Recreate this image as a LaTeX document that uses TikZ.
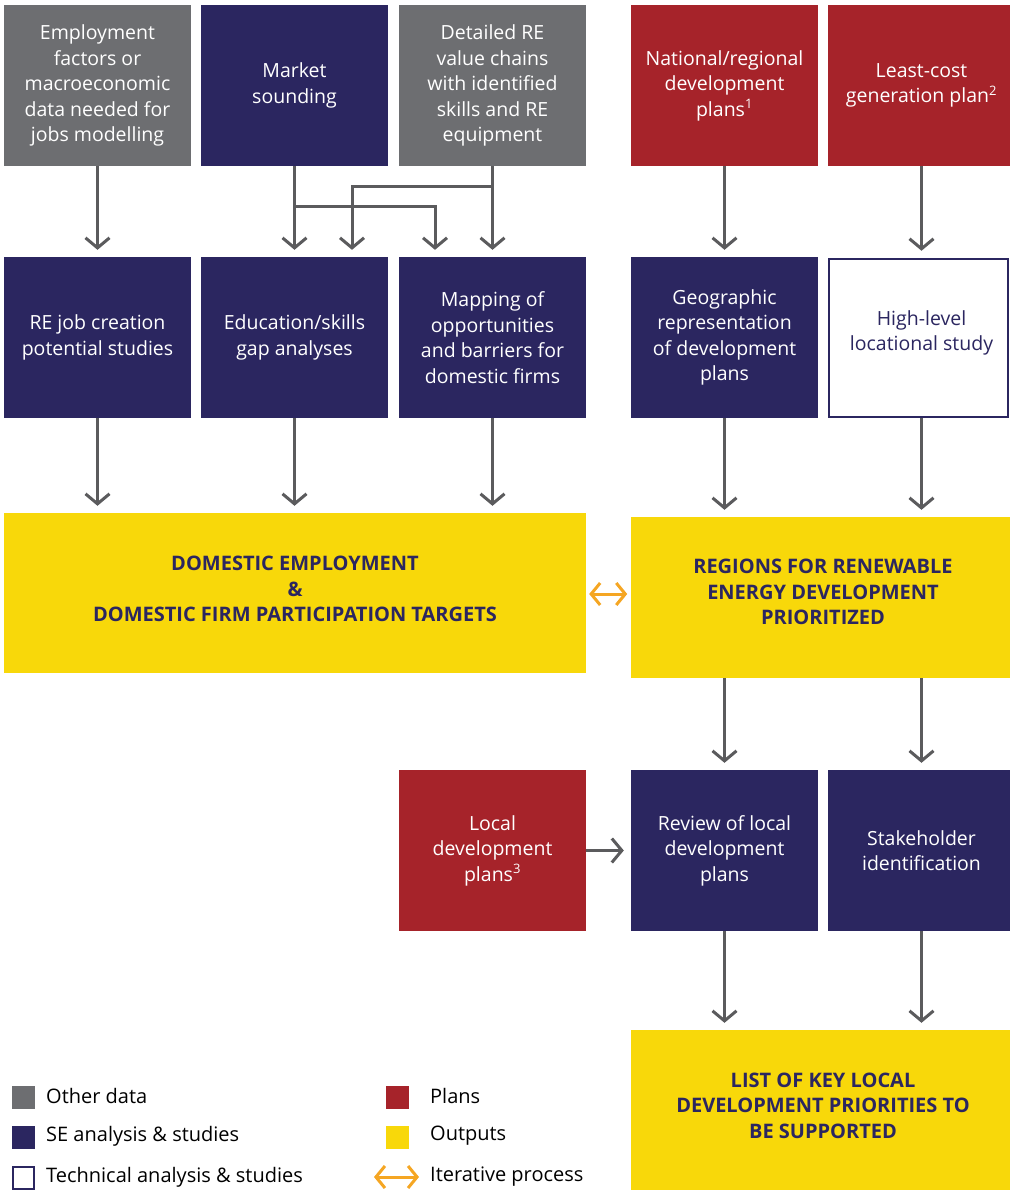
\documentclass[tikz,border=0pt]{standalone}
\usepackage{fontspec}
\setmainfont{Open Sans}
\usetikzlibrary{arrows.meta,calc}
\definecolor{datagray}{HTML}{6D6E71}
\definecolor{senavy}{HTML}{2B2660}
\definecolor{planred}{HTML}{A6232A}
\definecolor{outyellow}{HTML}{F8D80A}
\definecolor{arrgray}{HTML}{5B5B5D}
\definecolor{iterorange}{HTML}{F5A623}
\newcommand{\supnum}[1]{\textsuperscript{\fontsize{13}{13}\selectfont #1}}
\tikzset{
  box/.style={minimum width=187pt, minimum height=161pt, inner sep=0pt, align=center,
    font=\fontsize{19.5}{25.5}\selectfont, text=white},
  databox/.style={box, fill=datagray},
  sebox/.style={box, fill=senavy},
  planbox/.style={box, fill=planred},
  techbox/.style={draw=senavy, line width=2.5pt, fill=white, inner sep=0pt},
  techtext/.style={align=center, inner sep=0pt, text=senavy, font=\fontsize{19.5}{25.5}\selectfont},
  outbox/.style={inner sep=0pt, fill=outyellow},
  outtext/.style={inner sep=0pt, align=center, text=senavy, font=\fontsize{20}{25.5}\selectfont\bfseries},
  flow/.style={draw=arrgray, line width=3pt, -{Straight Barb[length=10pt,width=24pt,line width=3pt]}, shorten >=7pt},
  iter/.style={draw=iterorange, line width=3pt, {Straight Barb[length=9pt,width=22pt,line width=3pt]}-{Straight Barb[length=9pt,width=22pt,line width=3pt]}},
  legsq/.style={minimum width=23pt, minimum height=23pt, inner sep=0pt},
  legtext/.style={anchor=west, inner sep=0pt, font=\fontsize{20}{22}\selectfont, text=black}
}
\begin{document}
\begin{tikzpicture}[x=1pt,y=-1pt]
\useasboundingbox (0,0) rectangle (1009,1190);

% top row: inputs
\node[databox] (emp) at (97.5,85.5) {Employment\\factors or\\macroeconomic\\data needed for\\jobs modelling};
\node[sebox] (mkt) at (294.5,85.5) {Market\\sounding};
\node[databox] (det) at (492.5,85.5) {Detailed RE\\value chains\\with identified\\skills and RE\\equipment};
\node[planbox] (nat) at (724.5,85.5) {National/regional\\development\\plans\supnum{1}};
\node[planbox] (lcg) at (921.5,85.5) {Least-cost\\generation plan\supnum{2}};

% second row: analyses and studies
\node[sebox] (job) at (97.5,337.5) {RE job creation\\potential studies};
\node[sebox] (edu) at (294.5,337.5) {Education/skills\\gap analyses};
\node[sebox] (map) at (492.5,337.5) {Mapping of\\opportunities\\and barriers for\\domestic firms};
\node[sebox] (geo) at (724.5,337.5) {Geographic\\representation\\of development\\plans};
\node[techbox, minimum width=179pt, minimum height=158pt] (loc) at (918.5,338) {};
\node[techtext] (loct) at (921.5,333) {High-level\\locational study};

% outputs
\node[outbox, minimum width=582pt, minimum height=160pt] (emptgt) at (295,593) {};
\node[outtext] (emptgtt) at (295,589) {DOMESTIC EMPLOYMENT\\\&\\DOMESTIC FIRM PARTICIPATION TARGETS};
\node[outbox, minimum width=384pt, minimum height=161pt] (reg) at (823,597.5) {};
\node[outtext] (regt) at (823,592) {REGIONS FOR RENEWABLE\\ENERGY DEVELOPMENT\\PRIORITIZED};
\node[outbox, minimum width=384pt, minimum height=161pt] (lst) at (823,1110.5) {};
\node[outtext] (lstt) at (823,1105.5) {LIST OF KEY LOCAL\\DEVELOPMENT PRIORITIES TO\\BE SUPPORTED};

% third row
\node[planbox] (ldp) at (492.5,850.5) {Local\\development\\plans\supnum{3}};
\node[sebox] (rev) at (724.5,850.5) {Review of local\\development\\plans};
\node[sebox] (stk) at (921.5,850.5) {Stakeholder\\identification};

% connectors, top to second row
\draw[flow] (emp) -- (job);
\draw[flow] (mkt) -- (edu);
\draw[flow] (det) -- (map);
\draw[flow] (nat) -- (geo);
\draw[flow] (lcg.south) -- (lcg.south |- loc.north);
\draw[flow] (mkt.south |- 0,207) -| ($(map.north)+(-57.5,0)$);
\draw[flow] (det.south |- 0,187) -| ($(edu.north)+(57.5,0)$);

% second row to outputs
\draw[flow] (job) -- (job |- emptgt.north);
\draw[flow] (edu) -- (edu |- emptgt.north);
\draw[flow] (map) -- (map |- emptgt.north);
\draw[flow] (geo) -- (geo |- reg.north);
\draw[flow] (lcg.south |- loc.south) -- (lcg.south |- reg.north);

% iterative link between the two outputs
\draw[iter] ($(emptgt.east)+(3,1)$) -- ($(emptgt.east)+(41,1)$);

% regions to third row
\draw[flow] (geo |- reg.south) -- (rev);
\draw[flow] (stk |- reg.south) -- (stk);
\draw[flow] (ldp) -- (rev);

% third row to final output
\draw[flow] (rev) -- (rev |- lst.north);
\draw[flow] (stk) -- (stk |- lst.north);

% legend
\node[legsq, fill=datagray] (lg1) at (23.5,1097.5) {};
\node[legtext] (lt1) at (46,1096) {Other data};
\node[legsq, fill=senavy] (lg2) at (23.5,1137.5) {};
\node[legtext] (lt2) at (46,1136) {SE analysis \& studies};
\node[legsq, draw=senavy, line width=2pt, fill=white, minimum width=21pt, minimum height=22pt] (lg3) at (23.5,1178) {};
\node[legtext] (lt3) at (46,1177) {Technical analysis \& studies};
\node[legsq, fill=planred] (lg4) at (397.5,1097.5) {};
\node[legtext] (lt4) at (430,1096) {Plans};
\node[legsq, fill=outyellow] (lg5) at (397.5,1137.5) {};
\node[legtext] (lt5) at (430,1136) {Outputs};
\coordinate (la) at (374,1177);
\coordinate (lb) at (419,1177);
\draw[iter] (la) -- (lb);
\node[legtext] (lt6) at (430,1177) {Iterative process};
\end{tikzpicture}
\end{document}
